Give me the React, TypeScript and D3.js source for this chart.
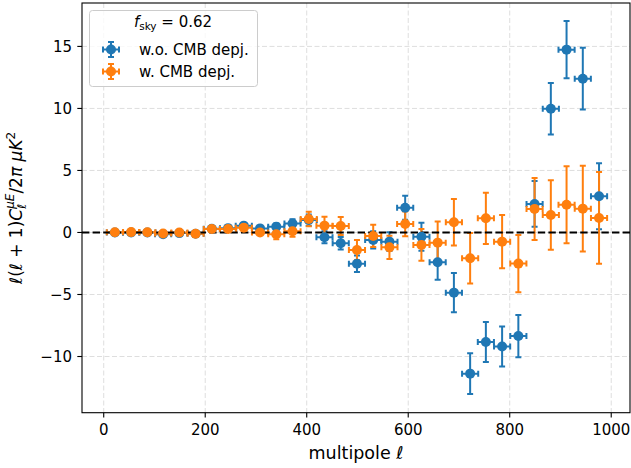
import React from "react";
import * as d3 from "d3";

// multipole bin centres and half bin widths
const ell = [22, 54, 86, 117, 149, 181, 213, 245, 276, 308, 340, 372, 404, 435, 467, 499, 531, 563, 594, 626, 658, 690, 722, 753, 785, 817, 849, 881, 912, 944, 976];
const ellErr = [15.9, 15.9, 15.9, 15.9, 15.9, 15.9, 15.9, 15.9, 15.9, 15.9, 15.9, 15.9, 15.9, 15.9, 15.9, 15.9, 15.9, 15.9, 15.9, 15.9, 15.9, 15.9, 15.9, 15.9, 15.9, 15.9, 15.9, 15.9, 15.9, 15.9, 15.9];

// w.o. CMB deprojection
const woValues = [0.0, 0.0, 0.0, -0.15, -0.05, -0.1, 0.3, 0.35, 0.55, 0.33, 0.47, 0.72, 1.0, -0.39, -0.87, -2.52, -0.6, -0.74, 2.0, -0.34, -2.4, -4.85, -11.38, -8.83, -9.2, -8.35, 2.3, 9.98, 14.74, 12.4, 2.92];
const woErrors = [0.15, 0.15, 0.15, 0.15, 0.15, 0.15, 0.2, 0.2, 0.2, 0.2, 0.25, 0.35, 0.45, 0.48, 0.5, 0.67, 0.7, 0.75, 0.97, 1.13, 1.41, 1.59, 1.64, 1.61, 1.61, 1.7, 1.84, 2.08, 2.3, 2.49, 2.66];

// w. CMB deprojection
const wValues = [0.02, 0.03, 0.02, -0.08, 0.0, -0.1, 0.28, 0.28, 0.39, 0.0, -0.15, 0.1, 1.09, 0.55, 0.52, -1.41, -0.28, -1.2, 0.69, -1.0, -0.82, 0.82, -2.08, 1.14, -0.74, -2.51, 1.9, 1.41, 2.24, 1.92, 1.17];
const wErrors = [0.15, 0.15, 0.15, 0.15, 0.15, 0.15, 0.2, 0.2, 0.2, 0.2, 0.4, 0.45, 0.58, 0.72, 0.72, 0.8, 0.9, 0.94, 1.0, 1.27, 1.7, 1.88, 2.04, 2.07, 2.15, 2.3, 2.5, 2.8, 3.1, 3.45, 3.7];

const xTicks = [0, 200, 400, 600, 800, 1000];
const yTicks = [-10, -5, 0, 5, 10, 15];
const seriesLabels = ["w.o. CMB depj.", "w. CMB depj."];
const legendTitleValue = "0.62";

const W = 631;
const H = 468;
const L = 82;
const R = 630;
const T = 3;
const B = 412.7;
const FONT = "DejaVu Sans, sans-serif";
const BLUE = "#1f77b4";
const ORANGE = "#ff7f0e";

const fmt = (v: number) => (v < 0 ? "\u2212" + Math.abs(v) : String(v));

export default function App() {
  const x = d3.scaleLinear().domain([-42.8, 1037]).range([L, R]);
  const y = d3.scaleLinear().domain([-14.53, 18.5]).range([B, T]);

  const series = [
    { vals: woValues, errs: woErrors, color: BLUE },
    { vals: wValues, errs: wErrors, color: ORANGE },
  ];
  const cap = 3;
  const ew = 2;

  const bars = (s: { vals: number[]; errs: number[]; color: string }, key: string) => (
    <g key={key} stroke={s.color} strokeWidth={ew} fill="none">
      {ell.map((l, i) => {
        const cx = x(l);
        const cy = y(s.vals[i]);
        const y0 = y(s.vals[i] - s.errs[i]);
        const y1 = y(s.vals[i] + s.errs[i]);
        const x0 = x(l - ellErr[i]);
        const x1 = x(l + ellErr[i]);
        return (
          <g key={i}>
            <line x1={x0} x2={x1} y1={cy} y2={cy} />
            <line x1={cx} x2={cx} y1={y0} y2={y1} />
            <line x1={x0} x2={x0} y1={cy - cap} y2={cy + cap} />
            <line x1={x1} x2={x1} y1={cy - cap} y2={cy + cap} />
            <line x1={cx - cap} x2={cx + cap} y1={y0} y2={y0} />
            <line x1={cx - cap} x2={cx + cap} y1={y1} y2={y1} />
          </g>
        );
      })}
    </g>
  );

  const markers = (s: { vals: number[]; errs: number[]; color: string }, key: string) => (
    <g key={key} fill={s.color}>
      {ell.map((l, i) => (
        <circle key={i} cx={x(l)} cy={y(s.vals[i])} r={5} />
      ))}
    </g>
  );

  const legendHandle = (cx: number, cy: number, color: string) => (
    <g stroke={color} strokeWidth={ew}>
      <line x1={cx - 8} x2={cx + 8} y1={cy} y2={cy} />
      <line x1={cx} x2={cx} y1={cy - 7.5} y2={cy + 7.5} />
      <line x1={cx - 8} x2={cx - 8} y1={cy - cap} y2={cy + cap} />
      <line x1={cx + 8} x2={cx + 8} y1={cy - cap} y2={cy + cap} />
      <line x1={cx - cap} x2={cx + cap} y1={cy - 7.5} y2={cy - 7.5} />
      <line x1={cx - cap} x2={cx + cap} y1={cy + 7.5} y2={cy + 7.5} />
      <circle cx={cx} cy={cy} r={5} fill={color} stroke="none" />
    </g>
  );

  return (
    <svg width={W} height={H} style={{ position: "absolute", left: 0, top: 0, background: "#fff" }} fontFamily={FONT}>
      <rect x={0} y={0} width={W} height={H} fill="#fff" />
      <defs>
        <clipPath id="plotclip">
          <rect x={L} y={T} width={R - L} height={B - T} />
        </clipPath>
      </defs>
      {/* grid */}
      <g stroke="#dedede" strokeWidth={1} strokeDasharray="5,2.5">
        {xTicks.map((t) => (
          <line key={"gx" + t} x1={x(t)} x2={x(t)} y1={T} y2={B} />
        ))}
        {yTicks.map((t) => (
          <line key={"gy" + t} x1={L} x2={R} y1={y(t)} y2={y(t)} />
        ))}
      </g>
      <g clipPath="url(#plotclip)">
        {series.map((s, i) => bars(s, "b" + i))}
        <line x1={L} x2={R} y1={y(0)} y2={y(0)} stroke="#000" strokeWidth={2} strokeDasharray="7.4,3.2" />
        {series.map((s, i) => markers(s, "m" + i))}
      </g>
      {/* spines */}
      <rect x={L} y={T} width={R - L} height={B - T} fill="none" stroke="#000" strokeWidth={1.1} />
      {/* x ticks */}
      <g fontSize={15} textAnchor="middle" fill="#000">
        {xTicks.map((t) => (
          <g key={"xt" + t}>
            <line x1={x(t)} x2={x(t)} y1={B} y2={B + 4.7} stroke="#000" strokeWidth={1.1} />
            <text x={x(t)} y={435}>{fmt(t)}</text>
          </g>
        ))}
      </g>
      <g fontSize={15} textAnchor="end" fill="#000">
        {yTicks.map((t) => (
          <g key={"yt" + t}>
            <line x1={L - 4.7} x2={L} y1={y(t)} y2={y(t)} stroke="#000" strokeWidth={1.1} />
            <text x={L - 10} y={y(t) + 5.4}>{fmt(t)}</text>
          </g>
        ))}
      </g>
      {/* x label */}
      <text x={(L + R) / 2} y={459} textAnchor="middle" fontSize={17.5}>
        multipole <tspan fontStyle="italic">ℓ</tspan>
      </text>
      {/* y label */}
      <text transform={`translate(22,${(T + B) / 2}) rotate(-90)`} textAnchor="middle" fontSize={17}>
        <tspan fontStyle="italic">ℓ</tspan>
        <tspan>(</tspan>
        <tspan fontStyle="italic">ℓ</tspan>
        <tspan> + 1)</tspan>
        <tspan fontStyle="italic">C</tspan>
        <tspan fontStyle="italic" fontSize={12} dy={4}>ℓ</tspan>
        <tspan fontStyle="italic" fontSize={12} dx={-5} dy={-12}>μE</tspan>
        <tspan dy={8}>/2</tspan>
        <tspan fontStyle="italic">π μK</tspan>
        <tspan fontSize={12} dy={-7}>2</tspan>
      </text>
      {/* legend */}
      <rect x={89.5} y={10.5} width={168} height={76} rx={3} fill="#fff" fillOpacity={0.8} stroke="#cccccc" strokeWidth={1} />
      <text x={173} y={27} textAnchor="middle" fontSize={15}>
        <tspan fontStyle="italic">f</tspan>
        <tspan fontSize={10.5} dy={3}>sky</tspan>
        <tspan dy={-3}> = {legendTitleValue}</tspan>
      </text>
      {seriesLabels.map((lab, i) => {
        const cy = 49.5 + i * 22;
        return (
          <g key={lab}>
            {legendHandle(111, cy, i === 0 ? BLUE : ORANGE)}
            <text x={139} y={cy + 5.4} fontSize={15}>{lab}</text>
          </g>
        );
      })}
    </svg>
  );
}
